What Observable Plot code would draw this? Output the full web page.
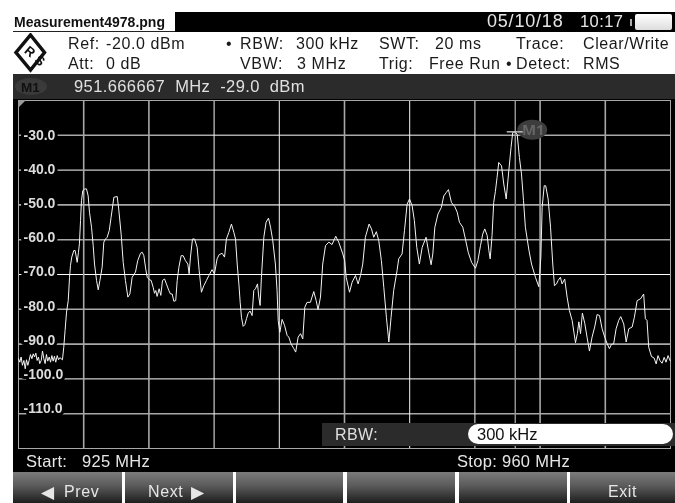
<!DOCTYPE html>
<html><head><meta charset="utf-8">
<script src="https://cdn.jsdelivr.net/npm/d3@7"></script>
<script src="https://cdn.jsdelivr.net/npm/@observablehq/plot@0.6"></script>
<style>
html,body{margin:0;padding:0;background:#fff}
#wrap{position:relative;width:675px;height:503px;overflow:hidden;font-family:"Liberation Sans",sans-serif;background:#fff;filter:blur(.35px)}
.a{position:absolute;white-space:pre}
#chart{position:absolute;left:13px;top:99px}
#chart svg{display:block}
</style></head><body><div id="wrap"></div>
<script>
const freq=[925,925.07,925.14,925.21,925.29,925.36,925.43,925.5,925.57,925.64,925.72,925.79,925.86,925.93,926,926.07,926.14,926.22,926.29,926.36,926.43,926.5,926.57,926.65,926.72,926.79,926.86,926.93,927,927.08,927.15,927.22,927.36,
927.43,927.5,927.58,927.67,927.74,927.79,927.86,927.97,928.04,928.15,928.22,928.27,928.33,928.38,928.45,928.56,928.65,928.74,928.81,928.92,929.01,929.08,929.19,929.28,929.37,929.49,929.58,929.67,929.76,929.87,929.97,930.12,930.3,930.38,930.51,930.62,930.74,930.87,930.98,931.1,931.28,931.4,931.55,931.64,931.73,931.83,931.91,932.03,932.12,932.23,932.3,932.37,932.44,932.55,932.64,932.73,932.84,932.94,933.07,933.16,933.25,933.34,933.44,933.52,933.61,933.73,933.84,933.96,934.09,934.16,934.23,934.34,934.45,934.59,934.7,934.82,934.95,935.09,935.22,935.39,935.52,935.66,935.77,935.93,936.06,
936.16,936.29,936.43,936.56,936.65,936.74,936.83,936.9,936.97,937.06,937.15,937.24,937.33,937.43,937.54,937.63,937.72,937.83,937.9,937.97,938.04,938.17,938.29,938.42,938.53,938.65,938.79,938.88,938.94,939.03,939.15,939.28,939.42,939.51,939.63,939.78,939.88,940.01,940.14,940.26,940.37,940.49,940.67,940.85,940.98,941.08,941.21,941.33,941.48,941.66,941.83,942.03,942.19,942.41,942.51,942.59,942.77,942.91,943.09,943.23,943.36,943.48,943.62,943.82,943.95,944.07,944.21,944.34,944.48,944.61,944.75,944.88,945,945.14,945.32,945.41,945.59,945.72,945.86,945.99,946.13,946.25,946.38,946.52,946.67,946.88,947.02,947.15,947.24,947.35,947.52,947.7,947.83,947.97,948.08,948.24,
948.42,948.55,948.67,948.85,948.99,949.14,949.32,949.53,949.66,949.8,949.92,950.03,950.16,950.25,950.32,950.42,950.51,950.6,950.69,950.78,950.93,951.05,951.18,951.32,951.44,951.53,951.667,951.77,951.89,952,952.11,952.21,952.39,952.54,952.75,952.93,952.98,953.04,953.11,953.22,953.3,953.43,953.56,953.68,953.77,953.88,953.97,954.09,954.18,954.32,954.45,954.57,954.72,954.9,955,955.08,955.17,955.27,955.4,955.52,955.65,955.79,955.93,956.06,956.19,956.33,956.47,956.6,956.72,956.83,956.95,957.08,957.22,957.33,957.49,957.62,957.76,957.94,958.06,958.21,958.39,958.56,958.65,958.74,958.83,958.98,959.12,959.23,959.33,959.44,959.55,959.66,959.76,959.87,959.98];
const level=[-94.2,-95.2,-93.7,-96.1,-94.7,-97.1,-94.5,-96.1,-94.7,-93,-94.2,-92.8,-93.7,-92.6,-94.7,-93.7,-95.6,-94.7,-92,-94.2,-95.6,-93,-94.9,-93.7,-95.2,-93.3,-94.9,-93.5,-95.2,-93.3,-94.5,-93.9,-94.5,
-90.9,-86.1,-80.8,-77.5,-70.8,-67.4,-65,-63.1,-63.1,-66.5,-63.6,-61.2,-54.5,-48.8,-45.9,-45.4,-45.4,-47.4,-52.1,-56.4,-61.7,-67,-71.7,-74.4,-71.7,-67.9,-60.7,-59.8,-59.3,-57.4,-53.6,-47.8,-47.6,-51.2,-58.4,-66.5,-71.7,-76.5,-75.6,-70.8,-69.3,-66,-63.9,-63.6,-64.6,-68.4,-70.8,-71.5,-71.7,-73.7,-75.4,-74.6,-76.3,-74.1,-76,-71.7,-71.3,-72.7,-74.6,-75.6,-75.6,-77.7,-77.5,-71.7,-67.9,-64.6,-64.6,-66,-67,-69.8,-65,-59.8,-59.8,-62.2,-68.9,-75.1,-73.2,-71.7,-70.3,-68.6,-69.8,-65.5,-64.3,-63.9,-65,
-59.8,-57.9,-55.5,-57.9,-59.8,-67,-72.7,-78,-82.3,-84.9,-84.4,-82.7,-81.1,-80.5,-81.8,-74.6,-74.1,-72.7,-76.5,-78.9,-70.8,-59.3,-55,-53.8,-56.4,-60.3,-67,-74.6,-83.2,-86.6,-82.9,-84.6,-87.5,-88,-89.9,-91.3,-92.3,-88,-87,-88.5,-79.4,-78,-78,-74.9,-77.5,-80.1,-76.5,-67,-61.7,-60.7,-61.4,-59,-60.7,-64.1,-66,-70.8,-75.1,-72.2,-70.3,-72.7,-70.3,-67,-59.3,-55.5,-56.9,-59.3,-57.7,-60.3,-66,-73.7,-82.3,-89.4,-82.3,-74.6,-68.9,-65.5,-64.1,-57.4,-49.8,-48.3,-50.2,-54.5,-62.2,-67,-62.2,-59.3,-63.6,-67.2,-64.1,-56.4,-52.6,-50.7,-47.4,-46.4,-45.6,-49.3,
-50.5,-52.1,-55,-56.4,-59.8,-63.6,-66.5,-68.2,-66,-61.7,-58.4,-56.9,-58.8,-63.1,-65.5,-58.8,-49.3,-46.1,-42.1,-37.8,-38.8,-44,-48.3,-40.2,-33.5,-29.2,-29,-29.7,-36.4,-41.1,-48.8,-56.4,-62.7,-67,-70.8,-73.5,-69.8,-65,-50.7,-44.5,-44.5,-48.3,-56.4,-67,-73.2,-72.7,-71.7,-70.8,-72.7,-71.3,-76.5,-80.3,-83.2,-89.6,-87,-83.6,-87,-81.1,-84.1,-88,-92,-88,-85.1,-81.5,-81.8,-85.6,-88,-89.9,-91.3,-90.1,-89.9,-85.6,-83.2,-82.1,-84.2,-89.4,-85.6,-85.1,-82.3,-77.5,-77,-75.6,-82.7,-83.2,-90.9,-93.6,-94,-95.7,-93.3,-94.8,-95.5,-93.8,-95.2,-93.3,-94.8];
const levelTicks=[-30,-40,-50,-60,-70,-80,-90,-100,-110];
const brightLevels=[-40,-70,-100];
const dimLevels=[-30,-50,-60,-80,-90,-110];
const brightFreqs=[935.5,939,946,949.5];
const dimFreqs=[928.5,932,942.5,953,956.5];
const markerFreq=951.666667, markerLevel=-29.0;

const wrap=document.getElementById("wrap");
function box(x,y,w,h,css){const d=document.createElement("div");d.className="a";d.style.cssText=`left:${x}px;top:${y}px;width:${w}px;height:${h}px;${css||""}`;wrap.appendChild(d);return d;}
function txt(s,x,base,size,color,css){const d=document.createElement("div");d.className="a";d.textContent=s;d.style.cssText=`left:${x}px;top:${base-size*0.905}px;font-size:${size}px;line-height:normal;color:${color};${css||""}`;wrap.appendChild(d);return d;}

box(13,12,662,20,"background:#000");
box(13,12,162,20,"background:#fff;box-sizing:border-box;border-bottom:1px solid #222");
box(13,99,662,373,"background:#000");
box(13,74,662,25,"background:#2b2b2b");

const x1=Plot.plot({
  width:662,height:373,marginLeft:5,marginRight:5,marginTop:1,marginBottom:24,
  style:{background:"#000"},
  x:{domain:[925,960],axis:null},
  y:{domain:[-120,-20],axis:null},
  marks:[
    Plot.ruleY(dimLevels,{stroke:"#a8a8a8",strokeWidth:1.6}),
    Plot.ruleY(brightLevels,{stroke:"#fff",strokeWidth:1}),
    Plot.ruleX(dimFreqs,{stroke:"#a8a8a8",strokeWidth:1.6}),
    Plot.ruleX(brightFreqs,{stroke:"#f4f4f4",strokeWidth:1}),
    Plot.ruleX([markerFreq],{stroke:"#999",strokeWidth:1.4}),
    Plot.frame({stroke:"#a8a8a8",strokeWidth:1}),
    Plot.dot([markerLevel],{x:()=>markerFreq,y:d=>d,dx:17,dy:-2,fill:"#3d3d3d",stroke:"none",
      symbol:{draw(c){const a=15,b=10,k=0.5523;c.moveTo(-a,0);c.bezierCurveTo(-a,-k*b,-k*a,-b,0,-b);c.bezierCurveTo(k*a,-b,a,-k*b,a,0);c.bezierCurveTo(a,k*b,k*a,b,0,b);c.bezierCurveTo(-k*a,b,-a,k*b,-a,0);c.closePath();}}}),
    Plot.text(["M1"],{x:()=>markerFreq,y:()=>markerLevel,dx:18,dy:-2,fill:"#666",fontSize:15,fontWeight:"bold"}),
    Plot.text(levelTicks,{y:d=>-30+(d+30)*0.982,text:d=>d.toFixed(1),frameAnchor:"left",textAnchor:"start",dx:5,fill:"#dcdcdc",stroke:"#000",strokeWidth:6,fontSize:14,fontWeight:"bold",fontFamily:"Liberation Sans"}),
    Plot.line(freq.map((f,i)=>[f,level[i]]),{x:d=>d[0],y:d=>d[1],stroke:"#f4f4f4",strokeWidth:1,curve:"linear"}),
    Plot.ruleY([markerLevel],{x1:()=>markerFreq-0.43,x2:()=>markerFreq+0.43,stroke:"#bbb",strokeWidth:1.5})
  ]
});
const holder=document.createElement("div");holder.id="chart";holder.appendChild(x1);wrap.appendChild(holder);

// triangle corner mark
box(18,100,8,8,"background:#9a9a9a;clip-path:polygon(0 0,100% 0,0 100%)");

// header
const H=16, B="#1a1a1a", LS="letter-spacing:.6px";
txt("Measurement4978.png",14,27,14,"#111","font-weight:bold");
[["Ref:",68,49],["-20.0 dBm",106,49],["Att:",68,69],["0 dB",106,69],
 ["•",226,49],["RBW:",240,49],["300 kHz",296,49],["VBW:",240,69],["3 MHz",297,69],
 ["SWT:",379,49],["20 ms",435,49],["Trig:",379,69],["Free Run",429,69],
 ["Trace:",516,49],["Clear/Write",583,49],["•",506,69],["Detect:",516,69],["RMS",583,69]
].forEach(([s,x,y])=>txt(s,x,y,H,B,LS));
txt("05/10/18",487,27,18,"#e6e6e6","letter-spacing:.8px");
txt("10:17",580,27,16.5,"#e6e6e6","letter-spacing:.4px");
box(630,19,2,7,"background:#aaa");
box(635,14,37,16,"background:linear-gradient(#fff,#ddd);border-radius:2px");

// marker row
box(15,78,32,17,"background:#3a3a3a;border-radius:50%");
txt("M1",21,92,13.5,"#111","font-weight:bold");
txt("951.666667  MHz  -29.0  dBm",74,92,16.5,"#e0e0e0","letter-spacing:.4px");

// logo
const lg=document.createElement("div");lg.className="a";lg.style.cssText="left:13px;top:33px;width:34px;height:40px";
lg.innerHTML=`<svg width="34" height="40" viewBox="0 0 34 40"><polygon points="17.5,2 31.5,19.5 17.5,37 3,19.5" fill="none" stroke="#111" stroke-width="3.5"/><text x="14" y="22" font-size="13" font-weight="bold" fill="#111" text-anchor="middle" transform="rotate(40 14 22)" font-family="Liberation Sans">R</text><text x="24" y="31" font-size="13" font-weight="bold" fill="#111" text-anchor="middle" transform="rotate(40 24 31)" font-family="Liberation Sans">S</text></svg>`;
wrap.appendChild(lg);

// RBW panel
box(322,423,353,23,"background:#2b2b2b");
txt("RBW:",335,440,16,"#e0e0e0","letter-spacing:.4px");
box(468,424,205,20,"background:#fff;border-radius:10px");
txt("300 kHz",477,440,16.5,"#111");

// start / stop
txt("Start:",26,467,16.5,"#e6e6e6","letter-spacing:.3px");
txt("925 MHz",82,467,16.5,"#e6e6e6","letter-spacing:.3px");
txt("Stop: 960 MHz",457,467,16.5,"#e6e6e6","letter-spacing:.3px");

// softkeys
[[13,109],[125,108],[236,107],[347,108],[459,108],[570,105]].forEach(([x,w])=>box(x,472,w,31,"background:linear-gradient(#7c7c7c,#5a5a5a 45%,#1e1e1e)"));
txt("◀",41,497,17,"#e6e6e6");
txt("Prev",64,497,16,"#e6e6e6","letter-spacing:.6px");
txt("Next",148,497,16,"#e6e6e6","letter-spacing:.6px");
txt("▶",191,497,17,"#e6e6e6");
txt("Exit",608,497,16,"#e6e6e6","letter-spacing:.6px");
</script></body></html>
